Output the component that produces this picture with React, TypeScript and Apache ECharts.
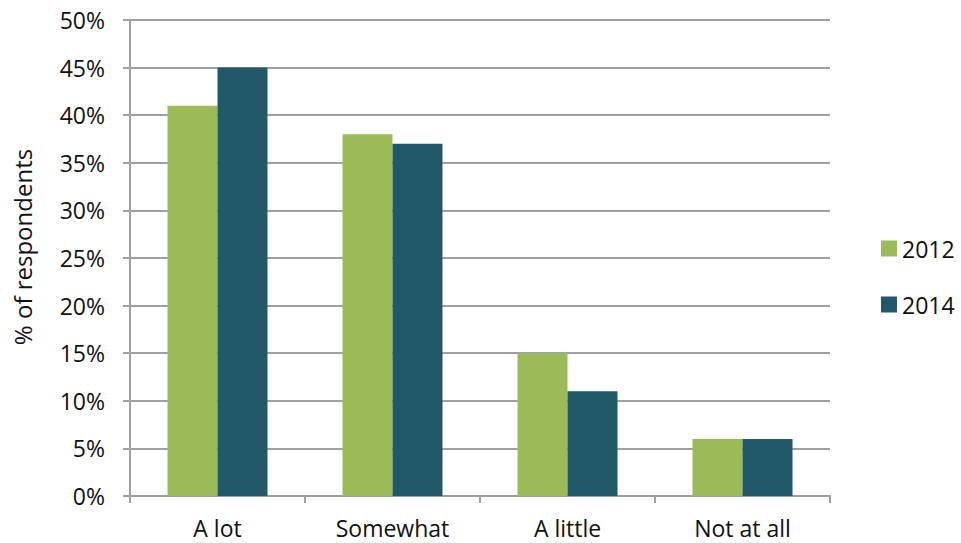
import React, { useEffect, useRef } from "react";
import * as echarts from "echarts";

const categories = ["A lot", "Somewhat", "A little", "Not at all"];
const values2012 = [41, 38, 15, 6];
const values2014 = [45, 37, 11, 6];
const seriesNames = ["2012", "2014"];
const yAxisName = "% of respondents";

const FONT = "'Open Sans', 'Noto Sans', sans-serif";
const GRID = "#a0a0a4";
const TEXT = "#111111";

export default function App() {
  const ref = useRef<HTMLDivElement>(null);
  useEffect(() => {
    const chart = echarts.init(ref.current!, null, { renderer: "svg" });
    chart.setOption({
      animation: false,
      textStyle: { fontFamily: FONT },
      grid: { left: 130, top: 20, right: 131, bottom: 47, containLabel: false, outerBoundsMode: "none" },
      legend: {
        orient: "vertical",
        left: 876,
        top: 232,
        itemWidth: 16,
        itemHeight: 16,
        itemGap: 33,
        icon: "rect",
        data: seriesNames,
        textStyle: { fontSize: 23, color: TEXT, fontFamily: FONT },
      },
      xAxis: {
        type: "category",
        data: categories,
        axisLine: { lineStyle: { color: GRID, width: 2 } },
        axisTick: { show: true, length: 7, lineStyle: { color: GRID, width: 2 } },
        axisLabel: { fontSize: 23, color: TEXT, margin: 20, fontFamily: FONT },
      },
      yAxis: {
        type: "value",
        min: 0,
        max: 50,
        interval: 5,
        name: yAxisName,
        nameLocation: "middle",
        nameGap: 96,
        nameTextStyle: { fontSize: 24, color: TEXT, fontFamily: FONT, padding: [0, 0, 0, 22] },
        axisLine: { show: true, lineStyle: { color: GRID, width: 2 } },
        axisTick: { show: true, length: 7, lineStyle: { color: GRID, width: 2 } },
        axisLabel: { fontSize: 23, color: TEXT, margin: 25, formatter: "{value}%", fontFamily: FONT },
        splitLine: { show: true, lineStyle: { color: GRID, width: 2 } },
      },
      series: [
        {
          name: seriesNames[0],
          type: "bar",
          data: values2012,
          barWidth: 50,
          barGap: "0%",
          itemStyle: { color: "#9bbb59" },
        },
        {
          name: seriesNames[1],
          type: "bar",
          data: values2014,
          barWidth: 50,
          barGap: "0%",
          itemStyle: { color: "#215968" },
        },
      ],
    });
    return () => chart.dispose();
  }, []);
  return <div ref={ref} style={{ width: 961, height: 543, position: "absolute", left: 0, top: 0 }} />;
}
